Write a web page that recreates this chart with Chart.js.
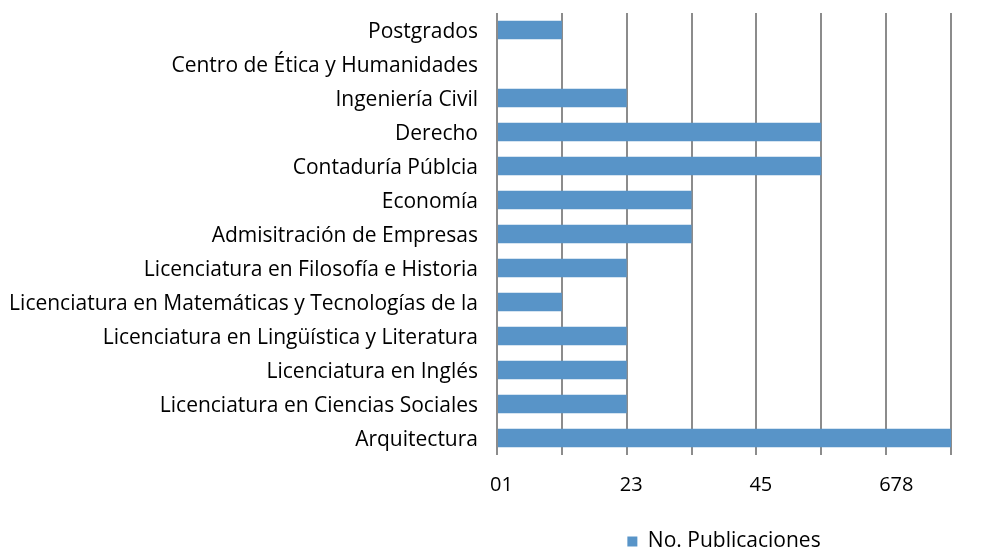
<!DOCTYPE html>
<html>
<head>
<meta charset="utf-8">
<script src="https://cdn.jsdelivr.net/npm/chart.js@4"></script>
<style>
  html, body { margin: 0; padding: 0; background: #ffffff; }
  #wrap { width: 1006px; height: 550px; }
</style>
</head>
<body>
<div id="wrap"><canvas id="barChart"></canvas></div>
<script>
// categories, top to bottom as drawn
const categories = [
    'Postgrados',
    'Centro de Ética y Humanidades',
    'Ingeniería Civil',
    'Derecho',
    'Contaduría Públcia',
    'Economía',
    'Admisitración de Empresas',
    'Licenciatura en Filosofía e Historia',
    'Licenciatura en Matemáticas y Tecnologías de la',
    'Licenciatura en Lingüística y Literatura',
    'Licenciatura en Inglés',
    'Licenciatura en Ciencias Sociales',
    'Arquitectura'
];

const publicaciones = [1, 0, 2, 5, 5, 3, 3, 2, 1, 2, 2, 2, 7];

// the axis labels as they appear (digits run together)
const tickValues = [0, 2, 4, 6];
const tickLabels = ['01', '23', '45', '678'];

const FONT = '"Open Sans", sans-serif';
const GRID = '#8c8c8c';

const config = {
    type: 'bar',
    data: {
        labels: categories,
        datasets: [{
            label: 'No. Publicaciones',
            data: publicaciones,
            backgroundColor: '#5894c8',
            borderWidth: 0,
            categoryPercentage: 1,
            barPercentage: 0.55
        }]
    },
    options: {
        indexAxis: 'y',
        responsive: true,
        maintainAspectRatio: false,
        animation: false,
        layout: {
            padding: { top: 13, right: 55, bottom: -12, left: 0 }
        },
        scales: {
            x: {
                min: 0,
                max: 7,
                border: { display: false },
                grid: {
                    color: GRID,
                    lineWidth: 2,
                    drawTicks: false
                },
                ticks: {
                    stepSize: 1,
                    align: 'start',
                    labelOffset: -7,
                    padding: 18,
                    color: '#000',
                    font: { family: FONT, size: 20 },
                    callback: function (value) {
                        const i = tickValues.indexOf(value);
                        return i >= 0 ? tickLabels[i] : '';
                    }
                },
                afterFit: function (scale) {
                    scale.height = 76;
                    scale.paddingLeft = 0;
                    scale.paddingRight = 0;
                }
            },
            y: {
                border: { display: false },
                grid: { display: false, drawTicks: false },
                ticks: {
                    padding: 19,
                    labelOffset: 2,
                    color: '#000',
                    font: { family: FONT, size: 21 },
                    autoSkip: false
                },
                afterFit: function (scale) {
                    scale.width = 497;
                    scale.paddingTop = 0;
                    scale.paddingBottom = 0;
                }
            }
        },
        plugins: {
            tooltip: { enabled: false },
            legend: {
                position: 'bottom',
                fullSize: false,
                labels: {
                    boxWidth: 10,
                    boxHeight: 10,
                    padding: 0,
                    color: '#000',
                    font: { family: FONT, size: 21 }
                }
            }
        }
    }
};

new Chart(document.getElementById('barChart'), config);
</script>
</body>
</html>
